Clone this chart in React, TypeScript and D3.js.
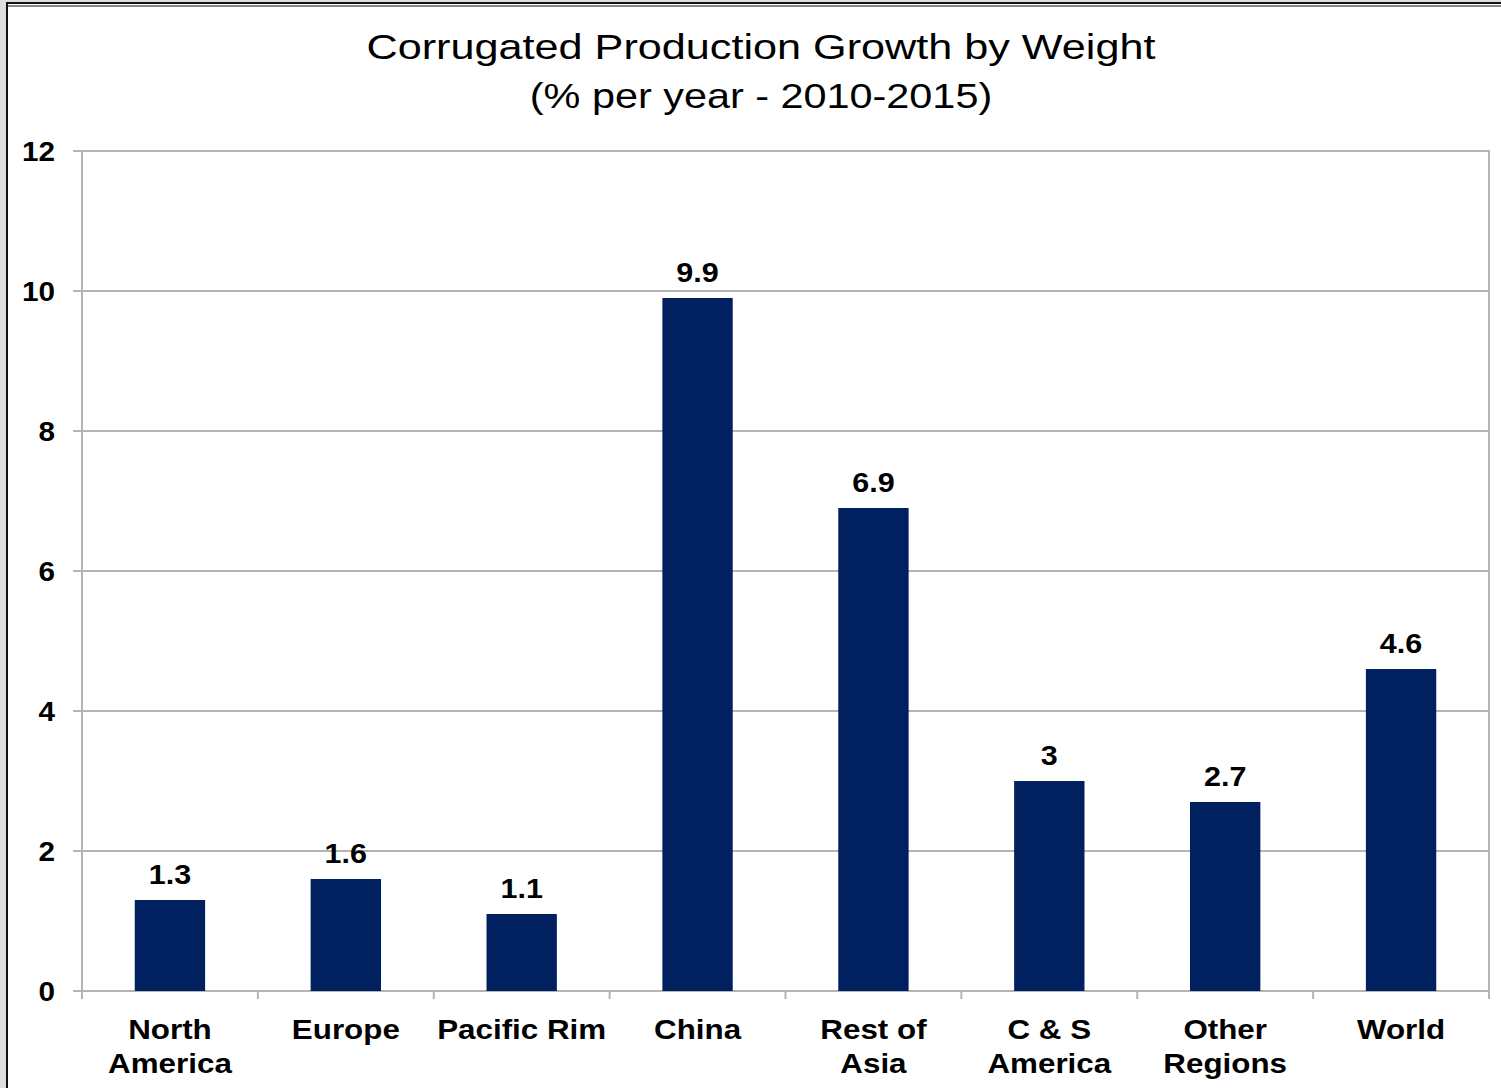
import React from "react";
import * as d3 from "d3";

const categories: string[][] = [
  ["North", "America"],
  ["Europe"],
  ["Pacific Rim"],
  ["China"],
  ["Rest of", "Asia"],
  ["C & S", "America"],
  ["Other", "Regions"],
  ["World"],
];
const values: number[] = [1.3, 1.6, 1.1, 9.9, 6.9, 3, 2.7, 4.6];
const valueLabels: string[] = ["1.3", "1.6", "1.1", "9.9", "6.9", "3", "2.7", "4.6"];
const yTicks: number[] = [0, 2, 4, 6, 8, 10, 12];
const titleLines: string[] = ["Corrugated Production Growth by Weight", "(% per year - 2010-2015)"];

const W = 1501;
const H = 1088;
const plot = { left: 82, right: 1489, top: 151, bottom: 991 };
const FONT = "'Liberation Sans', Arial, sans-serif";
const GRID = "#b4b4b4";
const BAR = "#002060";

function T(props: {
  x: number;
  y: number;
  sx: number;
  anchor: "start" | "middle" | "end";
  size: number;
  bold?: boolean;
  dy?: string;
  children: React.ReactNode;
}) {
  return (
    <text
      transform={`translate(${props.x},${props.y}) scale(${props.sx},1)`}
      textAnchor={props.anchor}
      fontSize={props.size}
      fontWeight={props.bold ? "bold" : "normal"}
      dy={props.dy}
      fill="#000"
    >
      {props.children}
    </text>
  );
}

export default function App() {
  const ids = categories.map((_, i) => String(i));
  const x = d3.scaleBand<string>().domain(ids).range([plot.left, plot.right]).paddingInner(0.6).paddingOuter(0.3);
  const band = d3.scaleBand<string>().domain(ids).range([plot.left, plot.right]);
  const y = d3.scaleLinear().domain([0, 12]).range([plot.bottom, plot.top]);

  return (
    <svg
      width={W}
      height={H}
      style={{ position: "absolute", left: 0, top: 0, display: "block" }}
      fontFamily={FONT}
    >
      <rect x={0} y={0} width={W} height={H} fill="#dedede" />
      <rect x={7} y={3} width={W + 20} height={H + 20} fill="#ffffff" stroke="#111" strokeWidth={2} />
      <line x1={7} x2={W} y1={6} y2={6} stroke="#111" strokeWidth={1} />

      {/* title */}
      <T x={761} y={59} sx={1.2} anchor="middle" size={36}>{titleLines[0]}</T>
      <T x={761} y={108} sx={1.15} anchor="middle" size={36}>{titleLines[1]}</T>

      {/* gridlines */}
      {yTicks.map((t) => (
        <line key={"g" + t} x1={plot.left - 9} x2={plot.right} y1={y(t)} y2={y(t)} stroke={GRID} strokeWidth={2} />
      ))}
      <line x1={plot.right} x2={plot.right} y1={plot.top - 1} y2={plot.bottom + 1} stroke={GRID} strokeWidth={2} />
      <line x1={plot.left} x2={plot.left} y1={plot.top - 1} y2={plot.bottom + 1} stroke={GRID} strokeWidth={2} />
      {yTicks.map((t) => (
        <T key={"t" + t} x={55} y={y(t)} dy="0.36em" sx={1.1} anchor="end" size={27} bold>
          {t}
        </T>
      ))}

      {/* category ticks */}
      {ids.map((id) => (
        <line key={"ct" + id} x1={band(id)!} x2={band(id)!} y1={plot.bottom} y2={plot.bottom + 8} stroke={GRID} strokeWidth={2} />
      ))}
      <line x1={plot.right} x2={plot.right} y1={plot.bottom} y2={plot.bottom + 8} stroke={GRID} strokeWidth={2} />

      {/* bars */}
      {values.map((v, i) => (
        <rect key={"b" + i} x={x(ids[i])!} y={y(v)} width={x.bandwidth()} height={y(0) - y(v)} fill={BAR} />
      ))}

      {/* value labels */}
      {values.map((v, i) => (
        <T key={"v" + i} x={x(ids[i])! + x.bandwidth() / 2} y={y(v) - 16} sx={1.13} anchor="middle" size={27} bold>
          {valueLabels[i]}
        </T>
      ))}

      {/* category labels */}
      {categories.map((lines, i) =>
        lines.map((l, j) => (
          <T
            key={"c" + i + "-" + j}
            x={band(ids[i])! + band.bandwidth() / 2}
            y={1039 + j * 34}
            sx={1.12}
            anchor="middle"
            size={28}
            bold
          >
            {l}
          </T>
        ))
      )}
    </svg>
  );
}
